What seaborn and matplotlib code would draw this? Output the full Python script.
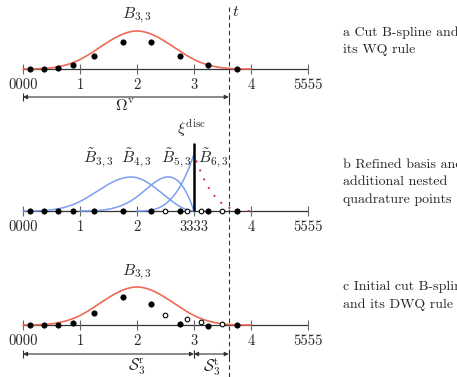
import numpy as np
import pandas as pd
import seaborn as sns
import matplotlib.pyplot as plt

# === data: knot vectors of the B-splines ===
knots_b33 = [0, 1, 2, 3, 4]
knots_b3_ref = [0, 1, 2, 3, 3]
knots_b4_ref = [1, 2, 3, 3, 3]
knots_b5_ref = [2, 3, 3, 3, 3]
knots_b6_ref = [3, 3, 3, 3, 4]

tick_pos = [0, 1, 2, 3, 4, 5]
tick_lab_a = ["0000", "1", "2", "3", "4", "5555"]
tick_lab_b = ["0000", "1", "2", "3333", "4", "5555"]
t_cut = 3.61

# quadrature points (x) and their weights (height)
pts_a_x = [0.12, 0.37, 0.61, 0.88, 1.25, 1.75, 2.25, 2.75, 3.25, 3.75]
pts_a_w = [0.0, 0.0, 0.01, 0.07, 0.23, 0.47, 0.47, 0.23, 0.07, 0.0]

pts_b_x = [0.12, 0.37, 0.61, 0.88, 1.25, 1.75, 2.25, 2.75, 3.25, 3.75]
pts_b_open_x = [2.5, 2.88, 3.12, 3.5]

pts_c_x = [0.12, 0.37, 0.61, 0.88, 1.25, 1.75, 2.25, 2.75, 3.25, 3.75]
pts_c_w = [0.0, 0.0, 0.0, 0.04, 0.21, 0.49, 0.37, 0.02, -0.02, 0.0]
pts_c_open_x = [2.5, 2.88, 3.12, 3.5]
pts_c_open_w = [0.18, 0.1, 0.06, 0.01]

captions = [
    "a Cut B-spline and\nits WQ rule",
    "b Refined basis and\nadditional nested\nquadrature points",
    "c Initial cut B-spline\nand its DWQ rule",
]


def basis(t, x):
    # Cox-de Boor recursion for one B-spline with knot vector t
    if len(t) == 2:
        return ((x >= t[0]) & (x < t[1])).astype(float)
    out = np.zeros_like(x)
    if t[-2] != t[0]:
        out += (x - t[0]) / (t[-2] - t[0]) * basis(t[:-1], x)
    if t[-1] != t[1]:
        out += (t[-1] - x) / (t[-1] - t[1]) * basis(t[1:], x)
    return out


def curve(t, a, b, n=300):
    x = np.linspace(a + 1e-9, b - 1e-9, n)
    return x, basis(t, x)


# pixel helpers (57 px per unit, origin of x at px 23)
U = 57.0
def Y(px):
    return -px / U
def X(px):
    return (px - 23) / U

base_a, base_b, base_c = Y(69), Y(211), Y(325)

sns.set_style("white")
plt.rcParams["font.family"] = ["cmr10", "DejaVu Serif"]
plt.rcParams["mathtext.fontset"] = "cm"
plt.rcParams["axes.unicode_minus"] = False
plt.rcParams["axes.formatter.use_mathtext"] = True

fig = plt.figure(figsize=(4.57, 3.77), dpi=100)
ax = fig.add_axes([0, 0, 1, 1])
ax.set_xlim(X(0), X(457))
ax.set_ylim(Y(377), 0)
ax.axis("off")

red = "#ee6a55"
blue = "#7b9ff0"
axc = "#333333"
tick_c = "#666666"
fs = 10.5
fs_cap = 10
fs_math = 11.5


def draw_axis(base, labels):
    ax.hlines(base, 0, 5, color=axc, lw=0.9, zorder=2)
    ax.vlines(tick_pos, base - 5 / U, base + 5 / U, color=tick_c, lw=0.8, zorder=2)
    for p, lab in zip(tick_pos, labels):
        ax.text(p, base - 16 / U, lab, ha="center", va="center", fontsize=fs)


def dim_arrow(x0, x1, y):
    ax.annotate("", xy=(x1, y), xytext=(x0, y),
                arrowprops=dict(arrowstyle="<|-|>", color=axc, lw=0.8,
                                shrinkA=0, shrinkB=0, mutation_scale=6))
    ax.vlines([x0, x1], y - 4 / U, y + 4 / U, color=axc, lw=0.8)


# --- panel a ---
xa, ya = curve(knots_b33, 0, 4)
sns.lineplot(x=xa, y=ya + base_a, color=red, lw=1.2, ax=ax, estimator=None, sort=False, zorder=3)
draw_axis(base_a, tick_lab_a)
sns.scatterplot(x=pts_a_x, y=np.array(pts_a_w) + base_a, color="black", s=15,
                edgecolor="black", linewidth=0.5, ax=ax, zorder=5)
ax.text(2, Y(15), r"$B_{3,3}$", ha="center", va="center", fontsize=fs_math)
dim_arrow(0, t_cut, Y(97))
ax.text(X(125), Y(106), r"$\Omega^{\mathrm{v}}$", ha="center", va="center", fontsize=fs_math)

# --- panel b ---
for kn in [knots_b3_ref, knots_b4_ref, knots_b5_ref]:
    xb, yb = curve(kn, kn[0], kn[-1])
    sns.lineplot(x=xb, y=yb + base_b, color=blue, lw=1.1, ax=ax, estimator=None, sort=False, zorder=3)
x6, y6 = curve(knots_b6_ref, 3.04, 4)
ax.plot(x6, y6 + base_b, color="#dd2b45", lw=1.4, ls=(0, (1, 4)), zorder=3)
draw_axis(base_b, tick_lab_b)
ax.vlines(3, base_b, Y(143), color="black", lw=1.8, zorder=4)
sns.scatterplot(x=pts_b_x, y=[base_b] * len(pts_b_x), color="black", s=15,
                edgecolor="black", linewidth=0.5, ax=ax, zorder=5)
sns.scatterplot(x=pts_b_open_x, y=[base_b] * len(pts_b_open_x), color="white", s=11,
                edgecolor="black", linewidth=0.8, ax=ax, zorder=5)
for lx, lab in zip([X(98), X(136), X(176), X(213)],
                   [r"$\tilde{B}_{3,3}$", r"$\tilde{B}_{4,3}$", r"$\tilde{B}_{5,3}$", r"$\tilde{B}_{6,3}$"]):
    ax.text(lx, Y(158), lab, ha="center", va="center", fontsize=fs_math)
ax.text(X(192), Y(128), r"$\xi^{\mathrm{disc}}$", ha="center", va="center", fontsize=fs_math)

# --- panel c ---
sns.lineplot(x=xa, y=ya + base_c, color=red, lw=1.2, ax=ax, estimator=None, sort=False, zorder=3)
draw_axis(base_c, tick_lab_a)
sns.scatterplot(x=pts_c_x, y=np.array(pts_c_w) + base_c, color="black", s=15,
                edgecolor="black", linewidth=0.5, ax=ax, zorder=5)
sns.scatterplot(x=pts_c_open_x, y=np.array(pts_c_open_w) + base_c, color="white", s=11,
                edgecolor="black", linewidth=0.8, ax=ax, zorder=5)
ax.text(2, Y(272), r"$B_{3,3}$", ha="center", va="center", fontsize=fs_math)
dim_arrow(0, 3, Y(354))
dim_arrow(3, t_cut, Y(354))
ax.text(X(137), Y(367), r"$\mathcal{S}_3^{\mathrm{r}}$", ha="center", va="center", fontsize=fs_math)
ax.text(X(212), Y(367), r"$\mathcal{S}_3^{\mathrm{t}}$", ha="center", va="center", fontsize=fs_math)

# cut line t
ax.vlines(t_cut, Y(377), Y(5), color=axc, lw=0.8, linestyles=(0, (4, 3)), zorder=4)
ax.text(t_cut + 7 / U, Y(12), r"$t$", ha="center", va="center", fontsize=fs_math)

# captions
for cap, ypx in zip(captions, [26, 159, 281]):
    ax.text(X(343), Y(ypx), cap, ha="left", va="top", fontsize=fs_cap, linespacing=1.55)

fig.savefig("out.png", dpi=100)
